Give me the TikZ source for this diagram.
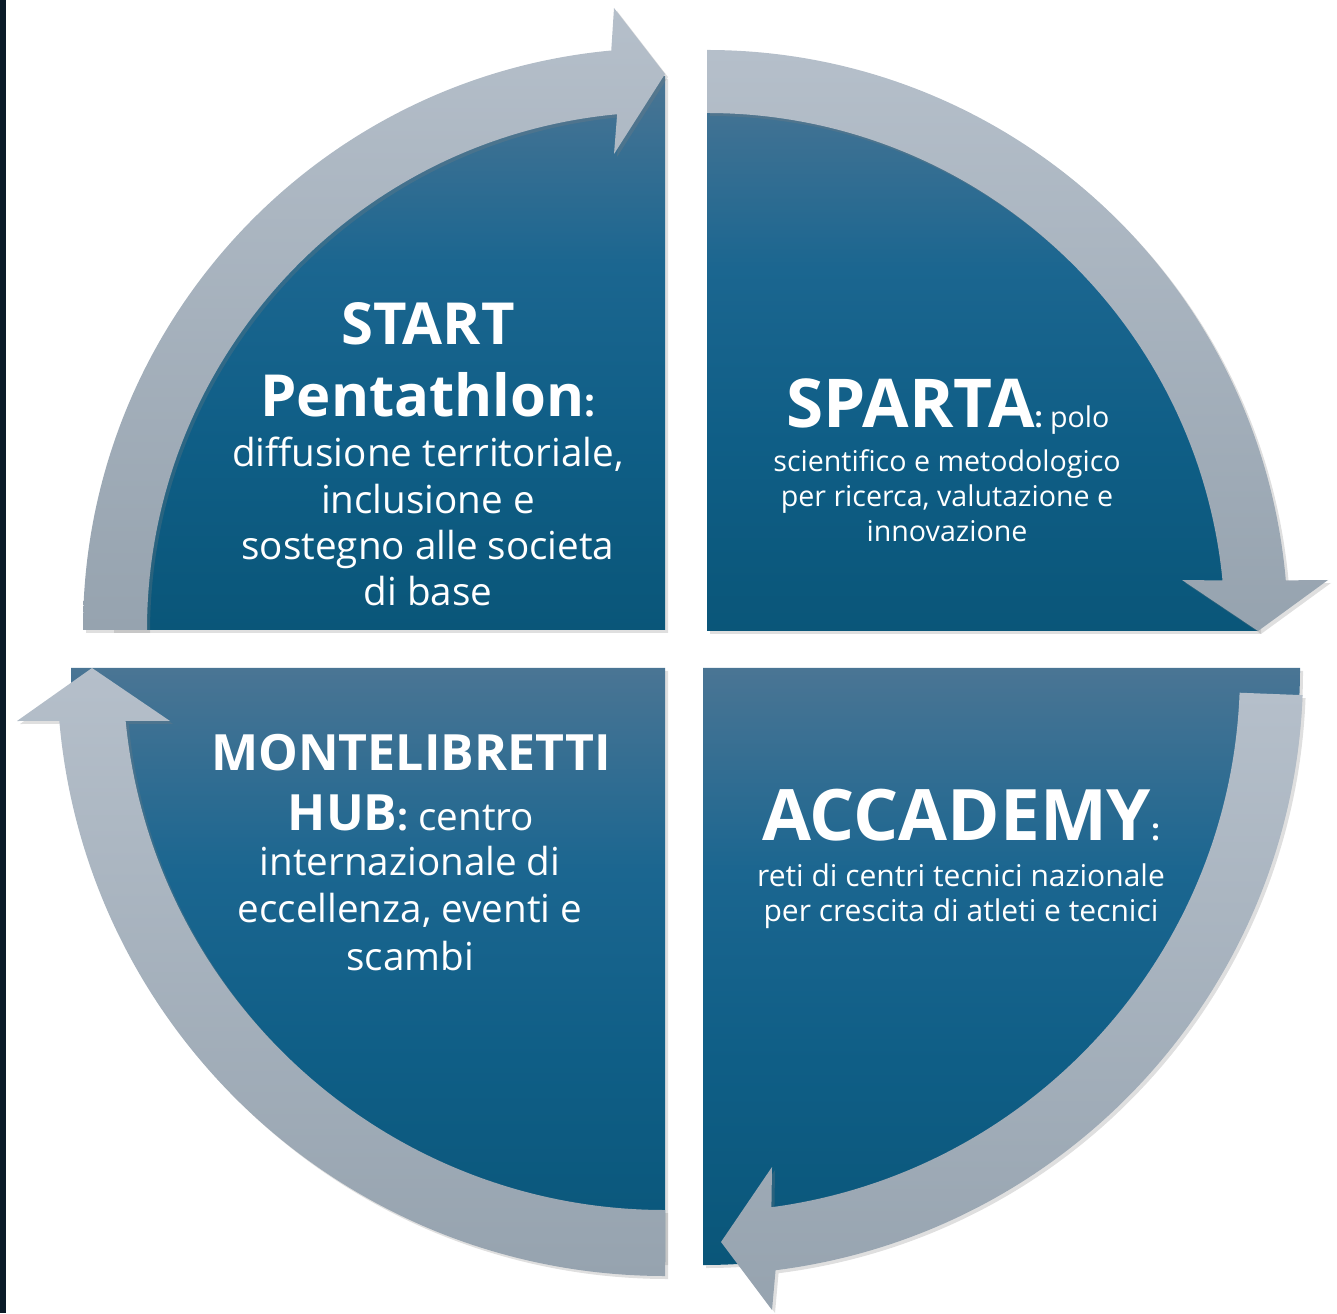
\documentclass[tikz,border=0pt]{standalone}
\usepackage{fontspec}
\setmainfont{Open Sans}
\usetikzlibrary{shadows}
\definecolor{pieTop}{HTML}{4A7594}
\definecolor{pieUp}{HTML}{1B6690}
\definecolor{pieLow}{HTML}{0F5E86}
\definecolor{pieBot}{HTML}{0A5679}
\definecolor{bandTop}{HTML}{B5BFCA}
\definecolor{bandBot}{HTML}{96A3AF}
\definecolor{sideDark}{HTML}{0B1B28}
\pgfdeclareverticalshading{pieShade}{100bp}{color(0bp)=(pieBot); color(25bp)=(pieBot);
    color(42bp)=(pieLow); color(58bp)=(pieUp); color(75bp)=(pieTop); color(100bp)=(pieTop)}
\tikzset{
    quarter/.style ={
        shade, shading = pieShade, % sfumatura verticale blu
        drop shadow  = {opacity=0.25, shadow xshift=1.5pt, shadow yshift=-1.5pt}
    },
    band/.style ={
        top color    = bandTop, % freccia chiara in alto
        bottom color = bandBot, % piu scura in basso
        drop shadow  = {opacity=0.25, shadow xshift=1.5pt, shadow yshift=-1.5pt}
    },
    headline/.style 2 args ={
        text   = white,         % testo bianco
        align  = center,
        anchor = base,          % linea di base dell'ultima riga
        font   = \bfseries\fontsize{#1}{#2}\selectfont
    },
    bodytext/.style 2 args ={
        text   = white,
        align  = center,
        anchor = base,
        font   = \fontsize{#1}{#2}\selectfont
    }
}

\begin{document}
\begin{tikzpicture}[x=0.5pt, y=0.5pt]
    \useasboundingbox (0,0) rectangle (1337,1313);
    \fill[sideDark] (0,0) rectangle (6,1313);

    \path[quarter] (665,683) -- ++(180:554) arc[start angle=180, end angle=90, radius=554] -- cycle;
    \path[quarter] (707,682) -- ++(90:551) arc[start angle=90, end angle=0, radius=551] -- cycle;
    \path[quarter] (703,645) -- ++(0:597) arc[start angle=0, end angle=-90, radius=597] -- cycle;
    \path[quarter] (665,645) -- ++(270:594) arc[start angle=270, end angle=180, radius=594] -- cycle;

    \path[band, shift={(665,683)}] (180:582) arc[start angle=180, end angle=95.3, radius=582]
        -- (-51,622) -- (0,556) -- (-51,476) -- (95.3:518) arc[start angle=95.3, end angle=180, radius=518] -- cycle;
    \path[band, shift={(707,682)}] (90:581) arc[start angle=90, end angle=5, radius=581]
        -- (621,51) -- (551,0) -- (475,51) -- (5.6:518) arc[start angle=5.6, end angle=90, radius=518] -- cycle;
    \path[band, shift={(700,641)}] (-2.2:603) arc[start angle=-2.2, end angle=-82.8, radius=603]
        -- (72,-638) -- (21,-570) -- (72,-495) -- (-82.4:540) arc[start angle=-82.4, end angle=-2.2, radius=540] -- cycle;
    \path[band, shift={(665,645)}] (270:608) arc[start angle=270, end angle=185, radius=608]
        -- (-648,-53) -- (-573,0) -- (-495,-53) -- (185.6:542) arc[start angle=185.6, end angle=270, radius=542] -- cycle;

    \node[headline={29}{36}] (startHead) at (428,896) {START\\Pentathlon{\fontsize{19.3}{23}\selectfont:}};
    \node[bodytext={19.3}{23.2}] (startBody) at (428,707) {diffusione territoriale,\\inclusione e\\sostegno alle societa\\di base};
    \node[headline={33.7}{40}] (spartaHead) at (948,885) {SPARTA{\fontsize{14.3}{17.7}\selectfont: \mdseries polo}};
    \node[bodytext={14.3}{17.7}] (spartaBody) at (947,771) {scientifico e metodologico\\per ricerca, valutazione e\\innovazione};
    \node[headline={25}{30}] (hubHead) at (411,483) {MONTELIBRETTI\\HUB{\fontsize{19.3}{23}\selectfont: \mdseries centro}};
    \node[bodytext={19.3}{23.75}] (hubBody) at (410,343) {internazionale di\\eccellenza, eventi e\\scambi};
    \node[headline={35.5}{42}] (academyHead) at (961,473) {ACCADEMY{\fontsize{15}{17.5}\selectfont:}};
    \node[bodytext={15}{17.5}] (academyBody) at (961,392) {reti di centri tecnici nazionale\\per crescita di atleti e tecnici};
\end{tikzpicture}
\end{document}
